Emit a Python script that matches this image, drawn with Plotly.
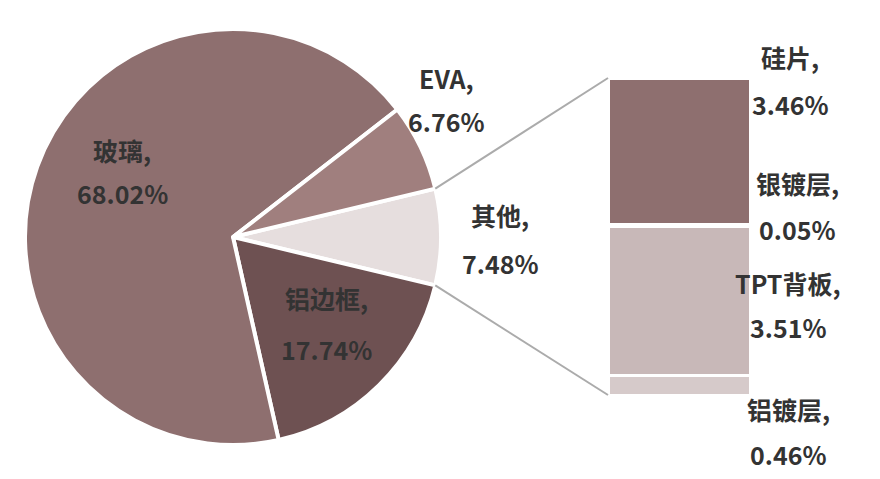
import plotly.graph_objects as go
import math

pie_labels = ["其他", "铝边框", "玻璃", "EVA"]
pie_values = [7.48, 17.74, 68.02, 6.76]
pie_colors = ["#E6DEDE", "#6E5152", "#8E6F6F", "#A07F7E"]

bar_labels = ["铝镀层", "TPT背板", "银镀层", "硅片"]
bar_values = [0.46, 3.51, 0.05, 3.46]
bar_colors = ["#D6CACA", "#C8B8B8", "#B0A0A0", "#8E6F6F"]

W, H = 880, 479
OFF = 8  # page body margin
cx, cy, r = 233 - OFF, 237 - OFF, 208
other_share = pie_values[0] / sum(pie_values)
half = other_share * 180  # degrees

fig = go.Figure()
fig.add_trace(go.Pie(labels=pie_labels, values=pie_values, sort=False, direction="clockwise",
                     rotation=90 - half, textinfo="none", hoverinfo="label+value",
                     marker=dict(colors=pie_colors, line=dict(color="white", width=4)),
                     domain=dict(x=[(cx - r) / W, (cx + r) / W], y=[1 - (cy + r) / H, 1 - (cy - r) / H]),
                     showlegend=False))

bx0, bx1, by0, by1 = 608 - OFF, 750 - OFF, 78 - OFF, 395 - OFF
for lab, v, c in zip(bar_labels, bar_values, bar_colors):
    fig.add_trace(go.Bar(x=[0], y=[v], name=lab, width=1, marker=dict(color=c, line=dict(color="white", width=3)),
                         showlegend=False))

fig.update_layout(barmode="stack", width=W, height=H, margin=dict(l=0, r=0, t=0, b=0),
                  paper_bgcolor="white", plot_bgcolor="white",
                  xaxis=dict(domain=[bx0 / W, bx1 / W], range=[-0.5, 0.5], visible=False),
                  yaxis=dict(domain=[1 - by1 / H, 1 - by0 / H], range=[0, sum(bar_values)], visible=False))

a = math.radians(half)
px = cx + r * math.cos(a)
pyt = cy - r * math.sin(a)
pyb = cy + r * math.sin(a)
for (y0, y1) in [(pyt, by0), (pyb, by1)]:
    fig.add_shape(type="line", xref="paper", yref="paper", x0=px / W, y0=1 - y0 / H, x1=bx0 / W, y1=1 - y1 / H,
                  line=dict(color="#ABABAB", width=2))

font = dict(family="Noto Sans CJK SC", size=25, color="#333333")
ann = [
    ("玻璃,", "68.02%", 122, 150, 193),
    ("EVA,", "6.76%", 446, 78, 121),
    ("其他,", "7.48%", 500, 215, 263),
    ("铝边框,", "17.74%", 326, 298, 349),
    ("硅片,", "3.46%", 790, 57, 104),
    ("银镀层,", "0.05%", 797, 183, 229),
    ("TPT背板,", "3.51%", 788, 283, 327),
    ("铝镀层,", "0.46%", 788, 409, 454),
]
for t1, t2, x, y1, y2 in ann:
    for t, y in [(t1, y1), (t2, y2)]:
        fig.add_annotation(text="<b>" + t + "</b>", x=(x - OFF) / W, y=1 - (y - OFF) / H, xref="paper", yref="paper",
                           xanchor="center", yanchor="middle", showarrow=False, font=font)

fig.write_html("out.html")
